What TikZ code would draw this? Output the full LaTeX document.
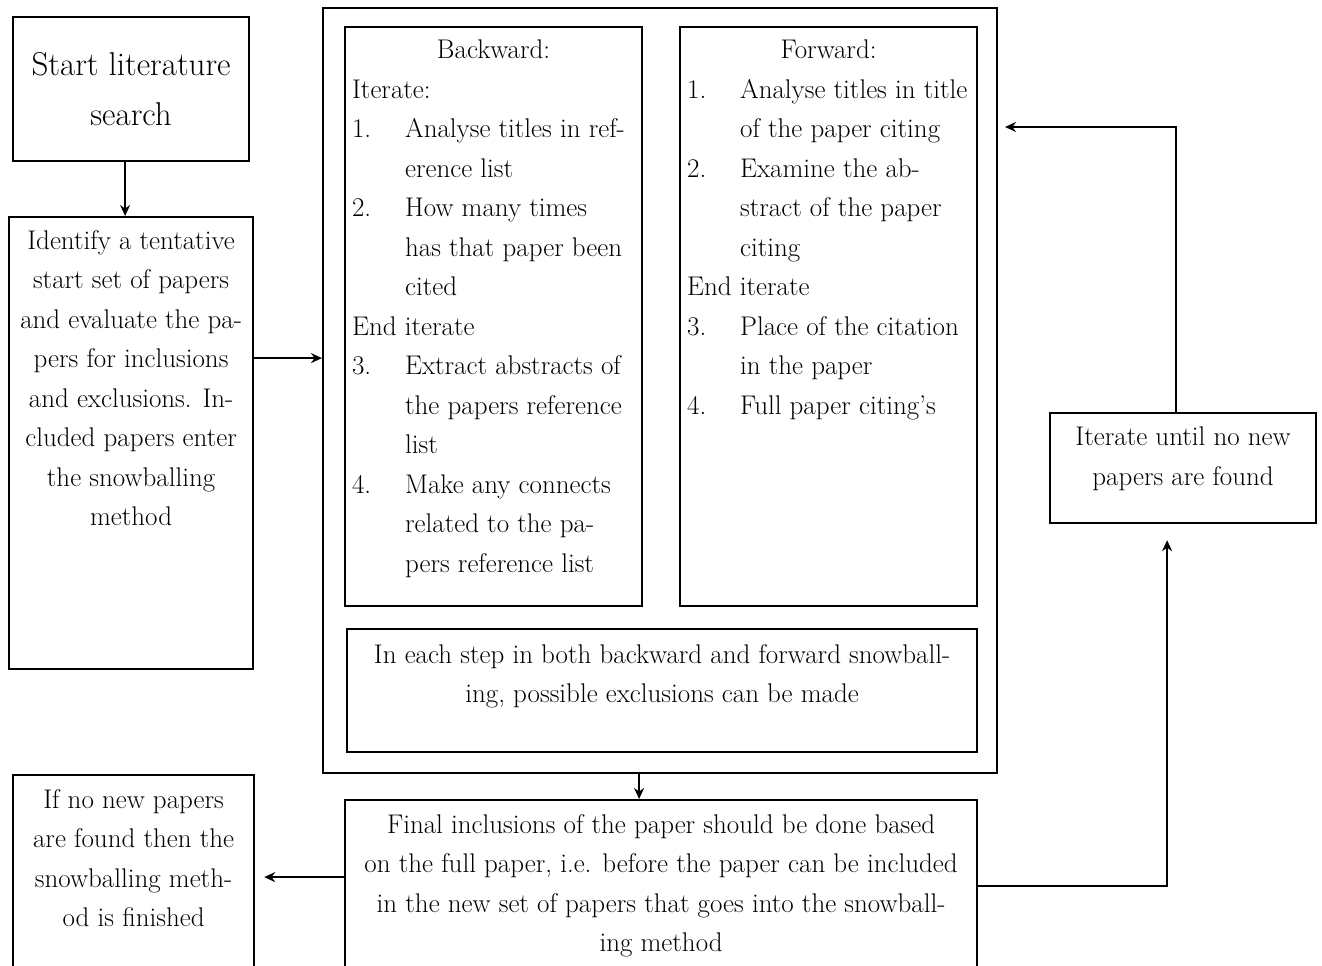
\documentclass[tikz,border=0pt]{standalone}
\usetikzlibrary{arrows.meta}

\newcommand{\bodysize}{\fontsize{27}{39.5}\selectfont}
\newcommand{\pane}[4]{\parbox[c][#2][t]{#1}{\vspace*{#3}#4}}
\newcommand{\num}[1]{\makebox[53pt][l]{#1}}
\newcommand{\ind}{\hspace*{53pt}}

\begin{document}
\begin{tikzpicture}[>={Stealth[length=11pt,width=10pt]}, x=1pt, y=-1pt,
    box/.style={draw, line width=2.2pt, anchor=north west, inner xsep=7pt, inner ysep=0pt, font=\bodysize},
    link/.style={->, line width=2.2pt}]
  \useasboundingbox (0,0) rectangle (1322,966);

  \node[box, minimum width=236pt, minimum height=144pt, align=center,
        font=\fontsize{33}{50}\selectfont] (start) at (12,16) {Start literature\\search};
  \node[box] (ident) at (8,216) {\pane{230pt}{452pt}{13pt}{\centering
      Identify a tentative\\start set of papers\\and evaluate the pa-\\pers for inclusions\\
      and exclusions. In-\\cluded papers enter\\the snowballing\\method}};

  \node[box, inner sep=0pt, minimum width=674pt, minimum height=765pt] (outer) at (322,7) {};
  \node[box] (back) at (344,26) {\pane{283pt}{579pt}{13pt}{%
      {\centering Backward:\par}
      Iterate:\\
      \num{1.}Analyse titles in ref-\\
      \ind erence list\\
      \num{2.}How many times\\
      \ind has that paper been\\
      \ind cited\\
      End iterate\\
      \num{3.}Extract abstracts of\\
      \ind the papers reference\\
      \ind list\\
      \num{4.}Make any connects\\
      \ind related to the pa-\\
      \ind pers reference list}};
  \node[box] (fwd) at (679,26) {\pane{283pt}{579pt}{13pt}{%
      {\centering Forward:\par}
      \num{1.}Analyse titles in title\\
      \ind of the paper citing\\
      \num{2.}Examine the ab-\\
      \ind stract of the paper\\
      \ind citing\\
      End iterate\\
      \num{3.}Place of the citation\\
      \ind in the paper\\
      \num{4.}Full paper citing's}};
  \node[box] (excl) at (346,628) {\pane{616pt}{123pt}{15pt}{\centering
      In each step in both backward and forward snowball-\\ing, possible exclusions can be made}};

  \node[box] (final) at (344,799) {\pane{618pt}{172pt}{14pt}{\centering
      Final inclusions of the paper should be done based\\
      on the full paper, i.e. before the paper can be included\\
      in the new set of papers that goes into the snowball-\\ing method}};
  \node[box] (ifno) at (12,774) {\pane{227pt}{197pt}{14pt}{\centering
      If no new papers\\are found then the\\snowballing meth-\\od is finished}};
  \node[box] (iter) at (1049,412) {\pane{252pt}{110pt}{14pt}{\centering
      Iterate until no new\\papers are found}};

  \coordinate (again) at (1005,127);

  \draw[link] ([xshift=-6pt]start.south) -- ([xshift=-6pt]ident.north);
  \draw[link] ([yshift=85pt]ident.east) -- ([yshift=85pt]ident.east -| outer.west);
  \draw[link] ([xshift=-21pt]outer.south) -- ([xshift=-21pt]outer.south |- final.north);
  \draw[link] ([yshift=9pt]final.west) -- ([xshift=9pt,yshift=9pt]ifno.east |- final.west);
  \draw[link] (final.east) -| ([xshift=-16pt,yshift=-16pt]iter.south);
  \draw[link] ([xshift=-7pt]iter.north) |- (again);
\end{tikzpicture}
\end{document}
